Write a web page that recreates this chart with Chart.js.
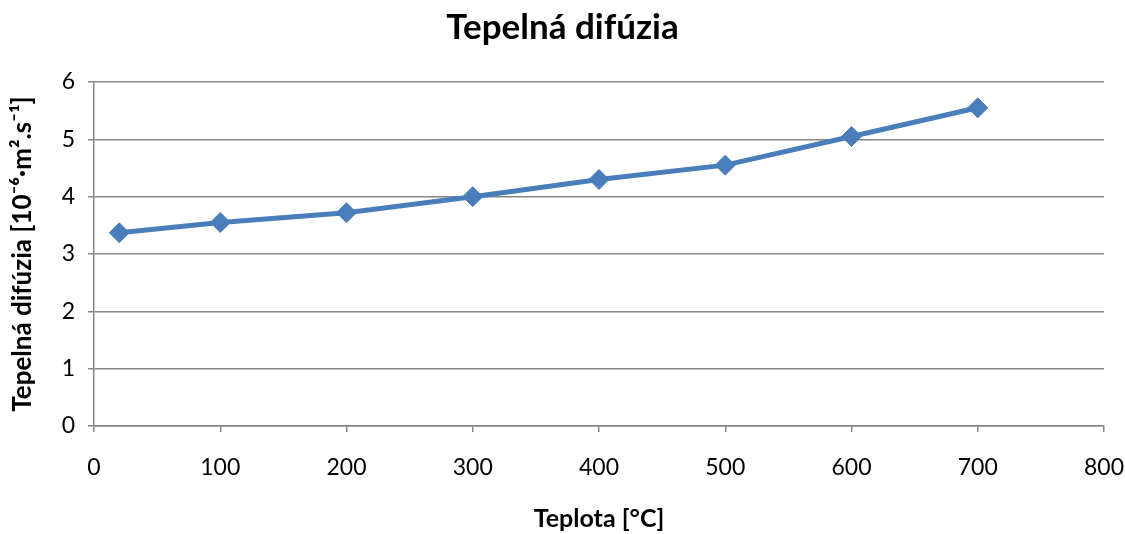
<!DOCTYPE html>
<html>
<head>
<meta charset="utf-8">
<script src="https://cdn.jsdelivr.net/npm/chart.js@4.4.1/dist/chart.umd.min.js"></script>
<style>
  html, body { margin: 0; padding: 0; background: #ffffff; }
  #wrap { width: 1125px; height: 534px; position: relative; }
</style>
</head>
<body>
<div id="wrap"><canvas id="chart"></canvas></div>
<script>
// Temperature [°C] and thermal diffusivity [10^-6 m^2/s]
const temperatures = [20, 100, 200, 300, 400, 500, 600, 700];
const diffusivity = [3.37, 3.55, 3.72, 4.00, 4.30, 4.55, 5.05, 5.55];
const xTicks = [0, 100, 200, 300, 400, 500, 600, 700, 800];
const yTicks = [0, 1, 2, 3, 4, 5, 6];

const chartTitle = 'Tepelná difúzia';
const xTitle = 'Teplota [°C]';
const yTitle = 'Tepelná difúzia [10⁻⁶·m².s⁻¹]';

const FONT = 'Lato, "Open Sans", "Liberation Sans", sans-serif';
const GRID = '#868686';
const LINE = '#4a7ebb';

const points = temperatures.map((t, i) => ({ x: t, y: diffusivity[i] }));

new Chart(document.getElementById('chart'), {
  type: 'line',
  data: {
    datasets: [{
      data: points,
      borderColor: LINE,
      backgroundColor: LINE,
      borderWidth: 5,
      pointStyle: 'rectRot',
      pointRadius: 10,
      pointHoverRadius: 10,
      pointBorderWidth: 1,
      pointBorderColor: LINE,
      pointBackgroundColor: LINE,
      tension: 0,
      fill: false
    }]
  },
  options: {
    responsive: true,
    maintainAspectRatio: false,
    animation: false,
    layout: { padding: 0 },
    plugins: {
      legend: { display: false },
      tooltip: { enabled: false },
      title: {
        display: true,
        text: chartTitle,
        color: '#000000',
        font: { family: FONT, size: 35, weight: 'bold' },
        padding: { top: 7, bottom: 33 }
      }
    },
    scales: {
      x: {
        type: 'linear',
        min: xTicks[0],
        max: xTicks[xTicks.length - 1],
        afterBuildTicks: s => { s.ticks = xTicks.map(v => ({ value: v })); },
        afterFit: s => { s.height = 108; s.paddingRight = 21; s.paddingLeft = 0; },
        border: { display: true, color: GRID, width: 1.5 },
        grid: { drawOnChartArea: false, drawTicks: true, tickLength: 6, color: GRID, lineWidth: 1.5 },
        ticks: { color: '#000000', font: { family: FONT, size: 23 }, padding: 22, maxRotation: 0 },
        title: {
          display: true,
          text: xTitle,
          color: '#000000',
          font: { family: FONT, size: 25, weight: 'bold' },
          padding: { top: 0, bottom: 0 }
        }
      },
      y: {
        type: 'linear',
        min: yTicks[0],
        max: yTicks[yTicks.length - 1],
        afterBuildTicks: s => { s.ticks = yTicks.map(v => ({ value: v })); },
        afterFit: s => { s.width = 94; },
        border: { display: true, color: GRID, width: 1.5 },
        grid: { drawOnChartArea: true, drawTicks: true, tickLength: 6, color: GRID, lineWidth: 1.5 },
        ticks: { color: '#000000', font: { family: FONT, size: 23 }, padding: 13 },
        title: {
          display: true,
          text: yTitle,
          color: '#000000',
          font: { family: FONT, size: 26, weight: 'bold' },
          padding: { top: 7, bottom: 0 }
        }
      }
    }
  }
});
</script>
</body>
</html>
